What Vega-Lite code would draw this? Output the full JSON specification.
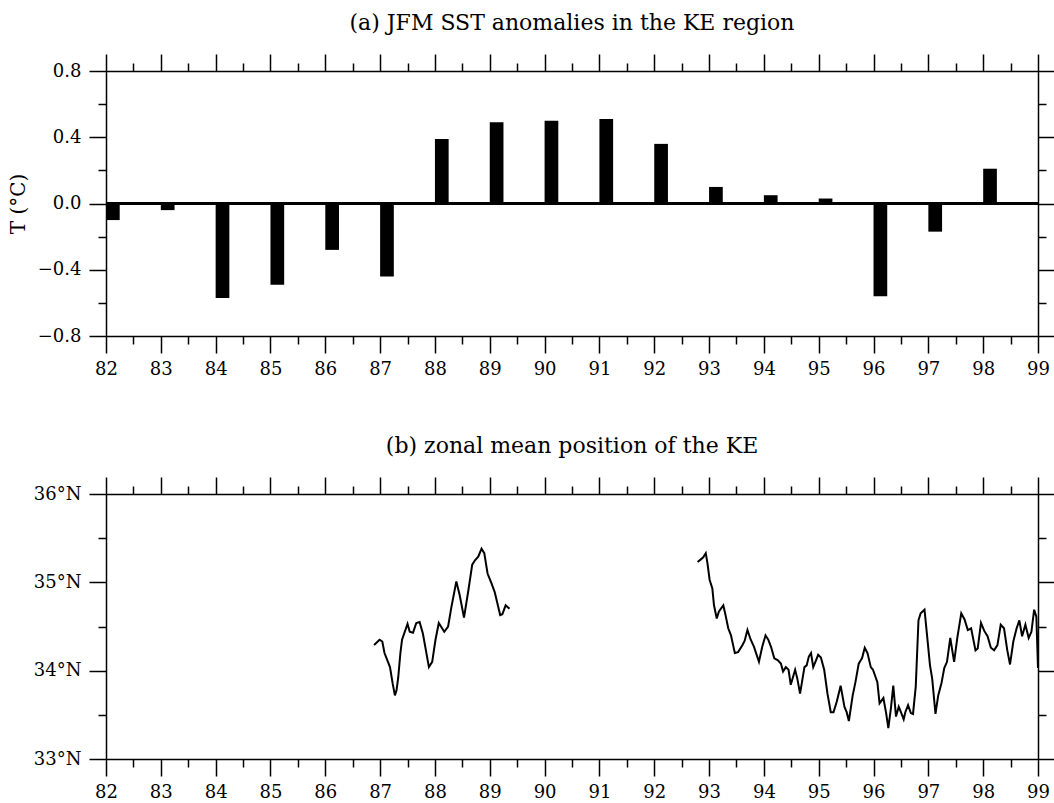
{
  "$schema": "https://vega.github.io/schema/vega-lite/v6.json",
  "background": "white",
  "padding": {"left": 8, "top": 12, "right": 5, "bottom": 0},
  "spacing": 57,
  "config": {
    "view": {"stroke": null},
    "font": "DejaVu Serif",
    "title": {"font": "DejaVu Serif", "fontSize": 22, "fontWeight": "normal", "color": "black", "anchor": "middle", "offset": 18},
    "axis": {
      "domainColor": "black", "tickColor": "black", "labelColor": "black", "titleColor": "black",
      "grid": false, "labelFont": "DejaVu Serif", "titleFont": "DejaVu Serif", "labelFontSize": 18,
      "titleFontSize": 20, "titleFontWeight": "normal", "domainWidth": 1.5, "tickWidth": 1.5,
      "labelOverlap": false, "labelFlush": false, "labelBound": false
    }
  },
  "datasets": {
    "bars": [
      {"x0": 82, "x1": 82.25, "t": -0.10},
      {"x0": 83, "x1": 83.25, "t": -0.04},
      {"x0": 84, "x1": 84.25, "t": -0.57},
      {"x0": 85, "x1": 85.25, "t": -0.49},
      {"x0": 86, "x1": 86.25, "t": -0.28},
      {"x0": 87, "x1": 87.25, "t": -0.44},
      {"x0": 88, "x1": 88.25, "t": 0.39},
      {"x0": 89, "x1": 89.25, "t": 0.49},
      {"x0": 90, "x1": 90.25, "t": 0.50},
      {"x0": 91, "x1": 91.25, "t": 0.51},
      {"x0": 92, "x1": 92.25, "t": 0.36},
      {"x0": 93, "x1": 93.25, "t": 0.10},
      {"x0": 94, "x1": 94.25, "t": 0.05},
      {"x0": 95, "x1": 95.25, "t": 0.03},
      {"x0": 96, "x1": 96.25, "t": -0.56},
      {"x0": 97, "x1": 97.25, "t": -0.17},
      {"x0": 98, "x1": 98.25, "t": 0.21}
    ],
    "ke": [
      {"seg": "a", "t": 86.89, "lat": 34.29},
      {"seg": "a", "t": 86.99, "lat": 34.35},
      {"seg": "a", "t": 87.04, "lat": 34.33},
      {"seg": "a", "t": 87.08, "lat": 34.20},
      {"seg": "a", "t": 87.18, "lat": 34.04},
      {"seg": "a", "t": 87.23, "lat": 33.85},
      {"seg": "a", "t": 87.27, "lat": 33.72},
      {"seg": "a", "t": 87.30, "lat": 33.78},
      {"seg": "a", "t": 87.33, "lat": 33.92},
      {"seg": "a", "t": 87.37, "lat": 34.20},
      {"seg": "a", "t": 87.40, "lat": 34.35},
      {"seg": "a", "t": 87.50, "lat": 34.53},
      {"seg": "a", "t": 87.54, "lat": 34.44},
      {"seg": "a", "t": 87.60, "lat": 34.43},
      {"seg": "a", "t": 87.66, "lat": 34.54},
      {"seg": "a", "t": 87.72, "lat": 34.55},
      {"seg": "a", "t": 87.78, "lat": 34.42},
      {"seg": "a", "t": 87.89, "lat": 34.04},
      {"seg": "a", "t": 87.95, "lat": 34.10},
      {"seg": "a", "t": 88.01, "lat": 34.35},
      {"seg": "a", "t": 88.07, "lat": 34.54},
      {"seg": "a", "t": 88.17, "lat": 34.44},
      {"seg": "a", "t": 88.24, "lat": 34.50},
      {"seg": "a", "t": 88.30, "lat": 34.72},
      {"seg": "a", "t": 88.39, "lat": 35.01},
      {"seg": "a", "t": 88.45, "lat": 34.86},
      {"seg": "a", "t": 88.53, "lat": 34.60},
      {"seg": "a", "t": 88.61, "lat": 34.91},
      {"seg": "a", "t": 88.68, "lat": 35.20},
      {"seg": "a", "t": 88.73, "lat": 35.25},
      {"seg": "a", "t": 88.79, "lat": 35.29},
      {"seg": "a", "t": 88.85, "lat": 35.38},
      {"seg": "a", "t": 88.90, "lat": 35.33},
      {"seg": "a", "t": 88.96, "lat": 35.10},
      {"seg": "a", "t": 89.03, "lat": 34.99},
      {"seg": "a", "t": 89.09, "lat": 34.89},
      {"seg": "a", "t": 89.14, "lat": 34.76},
      {"seg": "a", "t": 89.19, "lat": 34.63},
      {"seg": "a", "t": 89.23, "lat": 34.64},
      {"seg": "a", "t": 89.29, "lat": 34.74},
      {"seg": "a", "t": 89.36, "lat": 34.70},
      {"seg": "b", "t": 92.79, "lat": 35.23},
      {"seg": "b", "t": 92.85, "lat": 35.26},
      {"seg": "b", "t": 92.89, "lat": 35.28},
      {"seg": "b", "t": 92.94, "lat": 35.33},
      {"seg": "b", "t": 92.97, "lat": 35.22},
      {"seg": "b", "t": 93.01, "lat": 35.03},
      {"seg": "b", "t": 93.06, "lat": 34.93},
      {"seg": "b", "t": 93.09, "lat": 34.74},
      {"seg": "b", "t": 93.14, "lat": 34.59},
      {"seg": "b", "t": 93.18, "lat": 34.67},
      {"seg": "b", "t": 93.26, "lat": 34.74},
      {"seg": "b", "t": 93.30, "lat": 34.63},
      {"seg": "b", "t": 93.35, "lat": 34.48},
      {"seg": "b", "t": 93.40, "lat": 34.40},
      {"seg": "b", "t": 93.47, "lat": 34.20},
      {"seg": "b", "t": 93.53, "lat": 34.21},
      {"seg": "b", "t": 93.61, "lat": 34.29},
      {"seg": "b", "t": 93.65, "lat": 34.34},
      {"seg": "b", "t": 93.70, "lat": 34.46},
      {"seg": "b", "t": 93.76, "lat": 34.35},
      {"seg": "b", "t": 93.82, "lat": 34.27},
      {"seg": "b", "t": 93.91, "lat": 34.10},
      {"seg": "b", "t": 93.97, "lat": 34.27},
      {"seg": "b", "t": 94.03, "lat": 34.40},
      {"seg": "b", "t": 94.08, "lat": 34.35},
      {"seg": "b", "t": 94.13, "lat": 34.27},
      {"seg": "b", "t": 94.19, "lat": 34.14},
      {"seg": "b", "t": 94.25, "lat": 34.12},
      {"seg": "b", "t": 94.31, "lat": 34.08},
      {"seg": "b", "t": 94.35, "lat": 33.99},
      {"seg": "b", "t": 94.40, "lat": 34.04},
      {"seg": "b", "t": 94.45, "lat": 34.01},
      {"seg": "b", "t": 94.49, "lat": 33.84},
      {"seg": "b", "t": 94.57, "lat": 34.01},
      {"seg": "b", "t": 94.61, "lat": 33.91},
      {"seg": "b", "t": 94.66, "lat": 33.74},
      {"seg": "b", "t": 94.74, "lat": 34.04},
      {"seg": "b", "t": 94.78, "lat": 34.06},
      {"seg": "b", "t": 94.82, "lat": 34.16},
      {"seg": "b", "t": 94.86, "lat": 34.20},
      {"seg": "b", "t": 94.90, "lat": 34.04},
      {"seg": "b", "t": 94.94, "lat": 34.10},
      {"seg": "b", "t": 94.99, "lat": 34.18},
      {"seg": "b", "t": 95.04, "lat": 34.15},
      {"seg": "b", "t": 95.10, "lat": 34.01},
      {"seg": "b", "t": 95.16, "lat": 33.74},
      {"seg": "b", "t": 95.22, "lat": 33.53},
      {"seg": "b", "t": 95.27, "lat": 33.53},
      {"seg": "b", "t": 95.33, "lat": 33.65},
      {"seg": "b", "t": 95.40, "lat": 33.83},
      {"seg": "b", "t": 95.47, "lat": 33.59},
      {"seg": "b", "t": 95.51, "lat": 33.53},
      {"seg": "b", "t": 95.55, "lat": 33.43},
      {"seg": "b", "t": 95.62, "lat": 33.72},
      {"seg": "b", "t": 95.67, "lat": 33.87},
      {"seg": "b", "t": 95.73, "lat": 34.08},
      {"seg": "b", "t": 95.77, "lat": 34.12},
      {"seg": "b", "t": 95.79, "lat": 34.14},
      {"seg": "b", "t": 95.84, "lat": 34.26},
      {"seg": "b", "t": 95.89, "lat": 34.20},
      {"seg": "b", "t": 95.95, "lat": 34.04},
      {"seg": "b", "t": 95.99, "lat": 34.01},
      {"seg": "b", "t": 96.07, "lat": 33.87},
      {"seg": "b", "t": 96.11, "lat": 33.63},
      {"seg": "b", "t": 96.18, "lat": 33.69},
      {"seg": "b", "t": 96.23, "lat": 33.52},
      {"seg": "b", "t": 96.27, "lat": 33.35},
      {"seg": "b", "t": 96.32, "lat": 33.59},
      {"seg": "b", "t": 96.36, "lat": 33.83},
      {"seg": "b", "t": 96.41, "lat": 33.48},
      {"seg": "b", "t": 96.46, "lat": 33.59},
      {"seg": "b", "t": 96.50, "lat": 33.53},
      {"seg": "b", "t": 96.55, "lat": 33.45},
      {"seg": "b", "t": 96.58, "lat": 33.53},
      {"seg": "b", "t": 96.63, "lat": 33.61},
      {"seg": "b", "t": 96.68, "lat": 33.52},
      {"seg": "b", "t": 96.72, "lat": 33.51},
      {"seg": "b", "t": 96.77, "lat": 33.82},
      {"seg": "b", "t": 96.82, "lat": 34.57},
      {"seg": "b", "t": 96.86, "lat": 34.65},
      {"seg": "b", "t": 96.93, "lat": 34.69},
      {"seg": "b", "t": 96.97, "lat": 34.44},
      {"seg": "b", "t": 97.03, "lat": 34.06},
      {"seg": "b", "t": 97.07, "lat": 33.91},
      {"seg": "b", "t": 97.13, "lat": 33.51},
      {"seg": "b", "t": 97.18, "lat": 33.72},
      {"seg": "b", "t": 97.24, "lat": 33.86},
      {"seg": "b", "t": 97.29, "lat": 34.03},
      {"seg": "b", "t": 97.34, "lat": 34.10},
      {"seg": "b", "t": 97.40, "lat": 34.37},
      {"seg": "b", "t": 97.47, "lat": 34.10},
      {"seg": "b", "t": 97.53, "lat": 34.38},
      {"seg": "b", "t": 97.60, "lat": 34.65},
      {"seg": "b", "t": 97.66, "lat": 34.58},
      {"seg": "b", "t": 97.72, "lat": 34.46},
      {"seg": "b", "t": 97.78, "lat": 34.48},
      {"seg": "b", "t": 97.86, "lat": 34.23},
      {"seg": "b", "t": 97.90, "lat": 34.25},
      {"seg": "b", "t": 97.96, "lat": 34.54},
      {"seg": "b", "t": 98.02, "lat": 34.45},
      {"seg": "b", "t": 98.08, "lat": 34.39},
      {"seg": "b", "t": 98.14, "lat": 34.26},
      {"seg": "b", "t": 98.20, "lat": 34.23},
      {"seg": "b", "t": 98.26, "lat": 34.29},
      {"seg": "b", "t": 98.32, "lat": 34.52},
      {"seg": "b", "t": 98.38, "lat": 34.48},
      {"seg": "b", "t": 98.44, "lat": 34.23},
      {"seg": "b", "t": 98.49, "lat": 34.07},
      {"seg": "b", "t": 98.55, "lat": 34.33},
      {"seg": "b", "t": 98.61, "lat": 34.48},
      {"seg": "b", "t": 98.66, "lat": 34.57},
      {"seg": "b", "t": 98.71, "lat": 34.39},
      {"seg": "b", "t": 98.77, "lat": 34.52},
      {"seg": "b", "t": 98.83, "lat": 34.37},
      {"seg": "b", "t": 98.88, "lat": 34.44},
      {"seg": "b", "t": 98.93, "lat": 34.69},
      {"seg": "b", "t": 98.97, "lat": 34.61},
      {"seg": "b", "t": 99.00, "lat": 34.03}
    ]
  },
  "vconcat": [
    {
      "width": 932,
      "height": 265,
      "title": {"text": "(a) JFM SST anomalies in the KE region"},
      "data": {"name": "bars"},
      "layer": [
        {
          "mark": {"type": "rect", "color": "black"},
          "encoding": {
            "x": {"field": "x0", "type": "quantitative", "scale": {"domain": [82, 99], "nice": false, "zero": false},
                  "axis": {"orient": "bottom", "values": [82,83,84,85,86,87,88,89,90,91,92,93,94,95,96,97,98,99], "format": "d", "tickSize": 17, "labelPadding": 7, "title": null}},
            "x2": {"field": "x1"},
            "y": {"field": "t", "type": "quantitative", "scale": {"domain": [-0.8, 0.8], "nice": false, "zero": false},
                  "axis": {"orient": "left", "values": [-0.8, -0.4, 0, 0.4, 0.8], "format": ".1f", "tickSize": 17, "labelPadding": 8, "title": "T (°C)", "titlePadding": 9}},
            "y2": {"datum": 0}
          }
        },
        {
          "mark": {"type": "point", "opacity": 0},
          "encoding": {
            "x": {"field": "x0", "type": "quantitative", "axis": {"orient": "bottom", "values": [82.5,83.5,84.5,85.5,86.5,87.5,88.5,89.5,90.5,91.5,92.5,93.5,94.5,95.5,96.5,97.5,98.5], "tickSize": 8, "labels": false, "domain": false, "title": null}},
            "y": {"field": "t", "type": "quantitative", "axis": {"orient": "left", "values": [-0.6, -0.2, 0.2, 0.6], "tickSize": 8, "labels": false, "domain": false, "title": null}}
          }
        },
        {
          "mark": {"type": "point", "opacity": 0},
          "encoding": {
            "x": {"field": "x0", "type": "quantitative", "axis": {"orient": "top", "values": [82,83,84,85,86,87,88,89,90,91,92,93,94,95,96,97,98,99], "tickSize": 17, "labels": false, "title": null}},
            "y": {"field": "t", "type": "quantitative", "axis": {"orient": "right", "values": [-0.8, -0.4, 0, 0.4, 0.8], "tickSize": 17, "labels": false, "title": null}}
          }
        },
        {
          "mark": {"type": "point", "opacity": 0},
          "encoding": {
            "x": {"field": "x0", "type": "quantitative", "axis": {"orient": "top", "values": [82.5,83.5,84.5,85.5,86.5,87.5,88.5,89.5,90.5,91.5,92.5,93.5,94.5,95.5,96.5,97.5,98.5], "tickSize": 8, "labels": false, "domain": false, "title": null}},
            "y": {"field": "t", "type": "quantitative", "axis": {"orient": "right", "values": [-0.6, -0.2, 0.2, 0.6], "tickSize": 8, "labels": false, "domain": false, "title": null}}
          }
        },
        {
          "mark": {"type": "rule", "color": "black", "strokeWidth": 1.5},
          "encoding": {"y": {"datum": 0, "type": "quantitative", "axis": null}}
        }
      ],
      "resolve": {"axis": {"x": "independent", "y": "independent"}}
    },
    {
      "width": 932,
      "height": 265,
      "title": {"text": "(b) zonal mean position of the KE"},
      "data": {"name": "ke"},
      "layer": [
        {
          "mark": {"type": "line", "color": "black", "strokeWidth": 2},
          "encoding": {
            "x": {"field": "t", "type": "quantitative", "scale": {"domain": [82, 99], "nice": false, "zero": false},
                  "axis": {"orient": "bottom", "values": [82,83,84,85,86,87,88,89,90,91,92,93,94,95,96,97,98,99], "format": "d", "tickSize": 17, "labelPadding": 7, "title": null}},
            "y": {"field": "lat", "type": "quantitative", "scale": {"domain": [33, 36], "nice": false, "zero": false},
                  "axis": {"orient": "left", "values": [33, 34, 35, 36], "labelExpr": "datum.value + '°N'", "tickSize": 17, "labelPadding": 8, "title": null}},
            "detail": {"field": "seg", "type": "nominal"}
          }
        },
        {
          "mark": {"type": "point", "opacity": 0},
          "encoding": {
            "x": {"field": "t", "type": "quantitative", "axis": {"orient": "bottom", "values": [82.5,83.5,84.5,85.5,86.5,87.5,88.5,89.5,90.5,91.5,92.5,93.5,94.5,95.5,96.5,97.5,98.5], "tickSize": 8, "labels": false, "domain": false, "title": null}},
            "y": {"field": "lat", "type": "quantitative", "axis": {"orient": "left", "values": [33.5, 34.5, 35.5], "tickSize": 8, "labels": false, "domain": false, "title": null}}
          }
        },
        {
          "mark": {"type": "point", "opacity": 0},
          "encoding": {
            "x": {"field": "t", "type": "quantitative", "axis": {"orient": "top", "values": [82,83,84,85,86,87,88,89,90,91,92,93,94,95,96,97,98,99], "tickSize": 17, "labels": false, "title": null}},
            "y": {"field": "lat", "type": "quantitative", "axis": {"orient": "right", "values": [33, 34, 35, 36], "tickSize": 17, "labels": false, "title": null}}
          }
        },
        {
          "mark": {"type": "point", "opacity": 0},
          "encoding": {
            "x": {"field": "t", "type": "quantitative", "axis": {"orient": "top", "values": [82.5,83.5,84.5,85.5,86.5,87.5,88.5,89.5,90.5,91.5,92.5,93.5,94.5,95.5,96.5,97.5,98.5], "tickSize": 8, "labels": false, "domain": false, "title": null}},
            "y": {"field": "lat", "type": "quantitative", "axis": {"orient": "right", "values": [33.5, 34.5, 35.5], "tickSize": 8, "labels": false, "domain": false, "title": null}}
          }
        }
      ],
      "resolve": {"axis": {"x": "independent", "y": "independent"}}
    }
  ]
}
